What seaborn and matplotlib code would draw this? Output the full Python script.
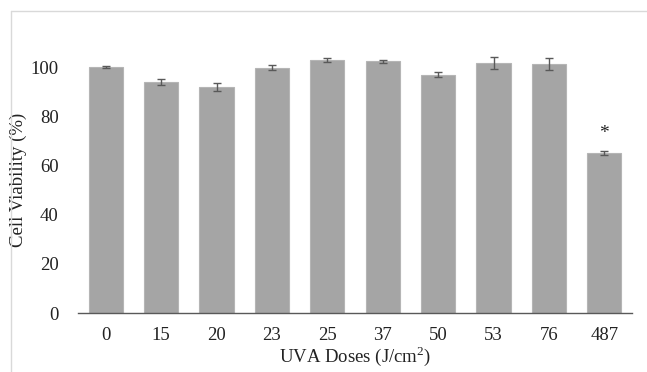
import matplotlib
matplotlib.use("Agg")
import matplotlib.pyplot as plt
from matplotlib.lines import Line2D
import seaborn as sns
import pandas as pd

doses = ["0", "15", "20", "23", "25", "37", "50", "53", "76", "487"]
viability = [100.0, 94.0, 91.9, 99.8, 103.1, 102.4, 96.9, 101.7, 101.3, 65.0]
errors = [0.5, 1.3, 1.7, 1.1, 0.8, 0.6, 1.1, 2.4, 2.3, 0.7]
significance = ["", "", "", "", "", "", "", "", "", "*"]

sns.set_theme(style="white")
plt.rcParams['font.family'] = ['Liberation Serif', 'DejaVu Serif']
plt.rcParams['mathtext.fontset'] = 'custom'
plt.rcParams['mathtext.rm'] = 'Liberation Serif'

df = pd.DataFrame({"dose": doses, "viability": viability})

fig = plt.figure(figsize=(6.47, 3.72), dpi=100)
ax = fig.add_axes([78/647, 1-313/372, (632-78)/647, (313-18)/372])

sns.barplot(data=df, x="dose", y="viability", order=doses, color="#a5a5a5",
            saturation=1, width=0.62, errorbar=None, edgecolor="#b5b5b5",
            linewidth=0.8, ax=ax)
ax.errorbar(range(len(doses)), viability, yerr=errors, fmt="none",
            ecolor="#595959", elinewidth=1.0, capsize=3, capthick=1.0)
for i, s in enumerate(significance):
    if s:
        ax.text(i, viability[i] + errors[i] + 4, s, ha="center", va="bottom",
                fontsize=14, color="#222222")

ax.set_ylim(0, 120)
ax.set_yticks([0, 20, 40, 60, 80, 100])
ax.set_xlim(-0.5, len(doses) - 0.5)
for side in ["top", "right", "left"]:
    ax.spines[side].set_visible(False)
ax.spines["bottom"].set_color("#595959")
ax.spines["bottom"].set_linewidth(1.0)
ax.tick_params(axis="both", length=0, labelsize=13.5, colors="#222222")
ax.tick_params(axis="x", pad=10)
ax.tick_params(axis="y", pad=14)
ax.set_xlabel("UVA Doses (J/cm$^\\mathrm{2}$)", fontsize=13.5, color="#222222", labelpad=0)
ax.set_ylabel("Cell Viability (%)", fontsize=13.5, color="#222222")
ax.yaxis.set_label_coords((27 - 78) / 554, (313 - 180) / 295)
ax.set_facecolor("white")

y_top = 1 - 10.5 / 372
x_left = 10.5 / 647
fig.add_artist(Line2D([x_left, 1.0], [y_top, y_top], transform=fig.transFigure,
                      color="#d9d9d9", linewidth=1.0))
fig.add_artist(Line2D([x_left, x_left], [0.0, y_top], transform=fig.transFigure,
                      color="#d9d9d9", linewidth=1.0))

fig.savefig("out.png", dpi=100, facecolor="white")
